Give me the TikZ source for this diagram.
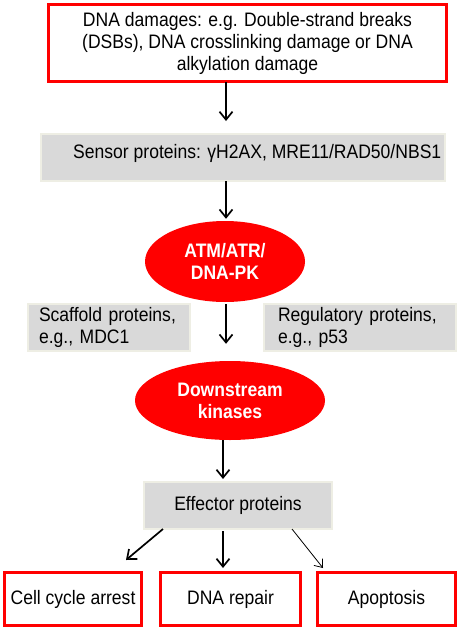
\documentclass[tikz,border=0pt]{standalone}
\usepackage{fontspec}
\setmainfont{Liberation Sans}[FakeStretch=0.9]
\usetikzlibrary{arrows.meta,shapes.geometric}
\definecolor{bred}{HTML}{FF0000}
\definecolor{bgray}{HTML}{D9D9D9}
\definecolor{bedge}{HTML}{EEEEE4}
\begin{document}
\begin{tikzpicture}[x=1pt,y=-1pt,
  txt/.style={font=\fontsize{19.5}{22}\selectfont},
  redbox/.style={txt,draw=bred,line width=3pt,fill=white,inner sep=0pt},
  graybox/.style={txt,draw=bedge,line width=2pt,fill=bgray,inner sep=0pt},
  redell/.style={ellipse,fill=bred,text=white,inner sep=0pt,align=center,
    font=\fontsize{19.5}{22}\selectfont\bfseries},
  arr/.style={line width=1.7pt,-{Straight Barb[length=8pt,width=13pt,line width=1.7pt]}},
  thinarr/.style={line width=0.8pt,-{Straight Barb[length=7pt,width=11pt,line width=0.8pt]}}
]
\useasboundingbox (0,0) rectangle (461,630);
\fill[white] (0,0) rectangle (461,630);

\node[redbox,minimum width=398pt,minimum height=77pt,align=center] (dmg) at (247.5,43)
  {DNA damages: e.g. Double-strand breaks\\(DSBs), DNA crosslinking damage or DNA\\alkylation damage};

\node[graybox,minimum width=404pt,minimum height=47pt] (sens) at (243,157.5) {};
\node[txt,anchor=west,inner sep=0pt] (senstxt) at (73,153) {Sensor proteins: γH2AX, MRE11/RAD50/NBS1};

\node[redell,minimum width=160pt,minimum height=81pt] (atm) at (225,261.5) {ATM/ATR/\\DNA-PK};

\node[graybox,minimum width=160pt,minimum height=47pt,text width=140pt,inner xsep=11pt,align=left] (scaf) at (109,327.5)
  {Scaffold proteins,\\e.g., MDC1};
\node[graybox,minimum width=190pt,minimum height=47pt,text width=164pt,inner xsep=14pt,align=left] (reg) at (360,327.5)
  {Regulatory proteins,\\e.g., p53};

\node[redell,minimum width=190pt,minimum height=79pt] (down) at (230,400.5) {Downstream\\kinases};

\node[graybox,minimum width=188pt,minimum height=47pt] (eff) at (238,505.5) {Effector proteins};

\node[redbox,minimum width=137pt,minimum height=53pt] (cell) at (73,599) {Cell cycle arrest};
\node[redbox,minimum width=140pt,minimum height=53pt] (rep) at (230.5,599) {DNA repair};
\node[redbox,minimum width=138pt,minimum height=53pt] (apo) at (386.5,599) {Apoptosis};

\draw[arr] ([xshift=-21.5pt,yshift=1.5pt]dmg.south) -- ([xshift=-17pt,yshift=12pt]sens.north);
\draw[arr] ([xshift=-17pt,yshift=1pt]sens.south) -- ([xshift=1pt,yshift=2pt]atm.north);
\draw[arr] ([xshift=1pt,yshift=-2pt]atm.south) -- ([xshift=-4pt,yshift=17pt]down.north);
\draw[arr] ([xshift=-7pt]down.south) -- ([xshift=-15pt,yshift=2pt]eff.north);
\draw[arr] ([xshift=20pt,yshift=1pt]eff.south west) -- ([xshift=53pt,yshift=11pt]cell.north);
\draw[arr] ([xshift=-15pt,yshift=-1pt]eff.south) -- ([xshift=-7.5pt,yshift=3pt]rep.north);
\draw[thinarr] ([xshift=-41pt,yshift=1pt]eff.south east) -- ([xshift=-63.5pt,yshift=3pt]apo.north);
\end{tikzpicture}
\end{document}
